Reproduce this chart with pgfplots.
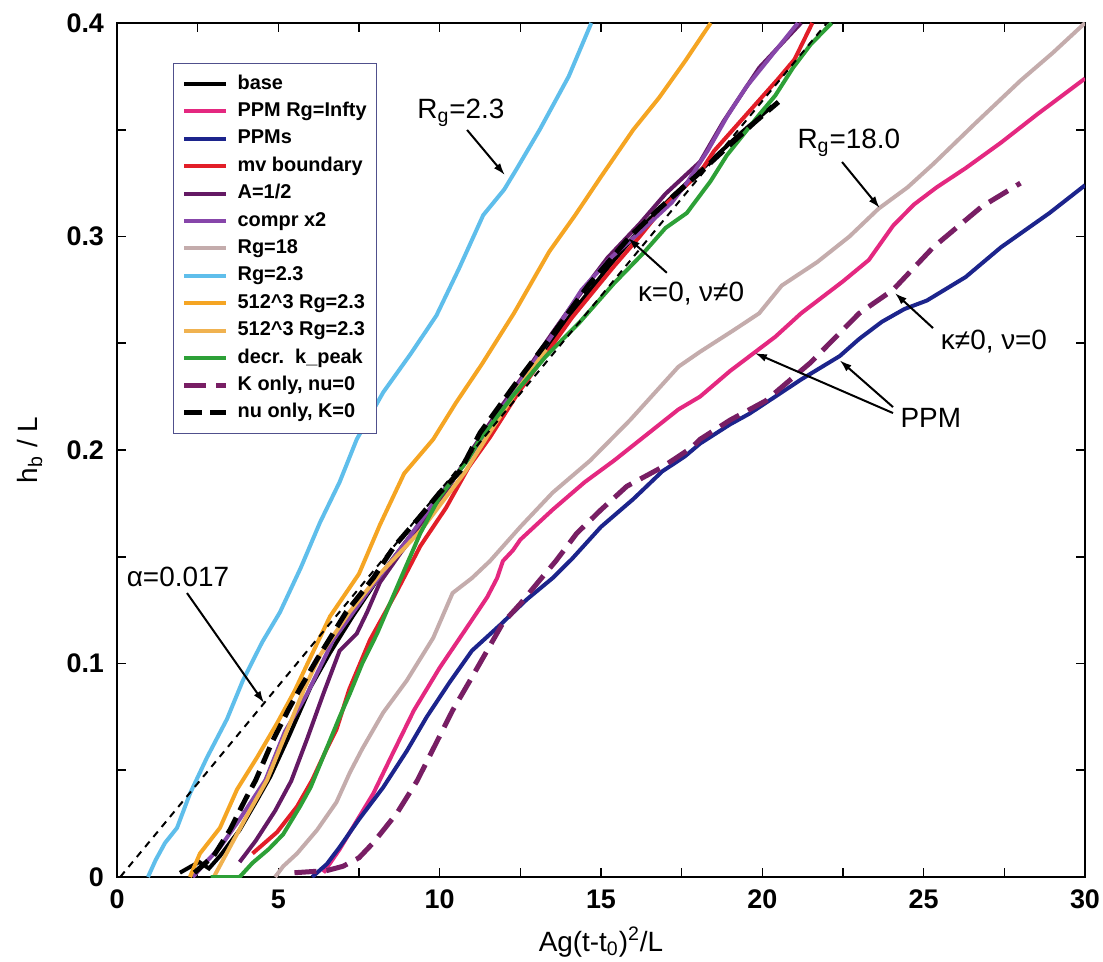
\documentclass[border=0pt]{standalone}
\usepackage{fontspec}
\setmainfont{Liberation Sans}
\usepackage{pgfplots}
\pgfplotsset{compat=1.18}
\usetikzlibrary{arrows.meta}
\definecolor{cpink}{RGB}{228,40,128}
\definecolor{cnavy}{RGB}{28,36,140}
\definecolor{cred}{RGB}{226,30,40}
\definecolor{cdpurp}{RGB}{100,25,100}
\definecolor{cmpurp}{RGB}{135,70,170}
\definecolor{cgrey}{RGB}{196,172,172}
\definecolor{cblue}{RGB}{95,190,235}
\definecolor{corange}{RGB}{245,165,35}
\definecolor{corangeb}{RGB}{240,178,80}
\definecolor{cgreen}{RGB}{45,160,55}
\definecolor{ckonly}{RGB}{120,30,100}
\definecolor{legendc}{RGB}{80,80,140}
\begin{document}
\begin{tikzpicture}
\useasboundingbox (-58.5bp,-42.5bp) rectangle (493bp,438.5bp);
\begin{axis}[
  at={(0,0)}, anchor=south west,
  scale only axis, width=484bp, height=427bp,
  xmin=0, xmax=30, ymin=0, ymax=0.4,
  xtick={0,5,...,30}, ytick={0,0.1,0.2,0.3,0.4},
  minor x tick num=1, minor y tick num=1,
  tick align=inside, major tick length=4.5bp, minor tick length=4.5bp,
  axis line style={line width=1.1bp},
  tick style={black, line width=0.8bp},
  /pgf/number format/assume math mode=true,
  tick label style={font=\fontsize{13.5}{14}\selectfont\bfseries},
  yticklabel style={/pgf/number format/fixed, /pgf/number format/precision=1, xshift=-3bp},
  xticklabel style={yshift=-3bp},
  xlabel={Ag(t-t\textsubscript{0})\textsuperscript{2}/L},
  ylabel={h\textsubscript{b} / L},
  label style={font=\fontsize{14}{16}\selectfont},
  xlabel style={at={(axis description cs:0.5,-0.076)}, anchor=center},
  ylabel style={at={(axis description cs:-0.09,0.5)}, anchor=center},
  legend cell align=left,
  legend style={at={(axis description cs:0.0579,0.9532)}, anchor=north west,
    draw=legendc, line width=0.6bp, fill=white, inner xsep=4bp, inner ysep=4.5bp,
    row sep=2.2bp, column sep=3.5bp, font=\fontsize{10}{11}\selectfont\bfseries,
    nodes={inner sep=1bp, text height=7.3bp, text depth=2.2bp}},
  legend image code/.code={\draw[#1] (0bp,0bp) -- (21bp,0bp);},
]
% base
\addplot[black, line width=2bp] coordinates {
(1.95,0.002)(2.3,0.005)(2.55,0.007)(2.85,0.004)(3.2,0.010)(3.8,0.022)(4.3,0.035)(4.75,0.047)(5.3,0.065)(6.0,0.089)(6.6,0.105)(7.3,0.122)(8.1,0.140)(8.9,0.156)(9.7,0.172)(10.6,0.190)(11.3,0.206)(12.3,0.228)(13.3,0.248)(14.3,0.268)(15.3,0.287)(16.3,0.305)(17.3,0.320)(18.3,0.334)(19.3,0.348)(20.3,0.361)};
\addlegendentry{base}
% PPM Rg=infty
\addplot[cpink, line width=2bp] coordinates {
(6.4,0.002)(6.9,0.013)(7.5,0.028)(7.94,0.039)(8.55,0.058)(9.2,0.078)(10.0,0.098)(10.85,0.117)(11.47,0.131)(11.78,0.140)(11.96,0.148)(12.27,0.153)(12.5,0.158)(13.5,0.172)(14.5,0.185)(15.4,0.195)(16.4,0.207)(17.4,0.219)(18.07,0.225)(19.0,0.237)(19.7,0.245)(20.4,0.253)(21.2,0.264)(22.5,0.279)(23.3,0.289)(24.05,0.305)(24.7,0.315)(25.4,0.323)(26.3,0.332)(27.4,0.344)(28.5,0.357)(30.0,0.374)};
\addlegendentry{PPM Rg=Infty}
% PPMs
\addplot[cnavy, line width=2bp] coordinates {
(6.05,0.0)(6.5,0.006)(6.9,0.014)(7.5,0.027)(8.25,0.042)(8.98,0.059)(9.6,0.075)(10.3,0.091)(11.0,0.106)(11.87,0.118)(12.7,0.130)(13.5,0.140)(14.1,0.149)(15.0,0.164)(16.0,0.177)(16.9,0.190)(17.6,0.197)(18.07,0.203)(19.0,0.212)(19.6,0.217)(20.4,0.225)(21.2,0.233)(22.4,0.244)(23.0,0.252)(23.7,0.260)(24.4,0.266)(25.1,0.270)(26.3,0.281)(27.4,0.295)(28.9,0.311)(30.0,0.324)};
\addlegendentry{PPMs}
% mv boundary
\addplot[cred, line width=2bp] coordinates {
(4.2,0.011)(4.96,0.021)(5.58,0.033)(6.05,0.0454)(6.5,0.060)(6.8,0.069)(7.2,0.088)(7.84,0.111)(8.68,0.134)(9.4,0.155)(10.2,0.173)(10.9,0.192)(11.56,0.206)(12.4,0.226)(13.3,0.245)(14.1,0.262)(15.4,0.286)(16.2,0.300)(17.0,0.315)(18.07,0.330)(18.5,0.340)(19.5,0.357)(20.5,0.374)(21.0,0.383)(21.55,0.4)};
\addlegendentry{mv boundary}
% A=1/2
\addplot[cdpurp, line width=2bp] coordinates {
(3.8,0.007)(4.3,0.017)(4.9,0.031)(5.4,0.045)(5.9,0.065)(6.4,0.086)(6.9,0.106)(7.43,0.114)(7.75,0.124)(8.15,0.138)(8.8,0.152)(9.5,0.166)(10.3,0.183)(11.0,0.200)(11.8,0.218)(12.6,0.235)(13.5,0.255)(14.3,0.272)(15.2,0.290)(16.2,0.306)(17.0,0.320)(18.07,0.335)(18.8,0.354)(19.9,0.379)(21.2,0.4)};
\addlegendentry{A=1/2}
% compr x2
\addplot[cmpurp, line width=2bp] coordinates {
(2.35,0.0)(2.7,0.006)(3.2,0.014)(3.8,0.027)(4.6,0.0454)(5.2,0.068)(5.9,0.086)(6.7,0.111)(7.75,0.133)(9.0,0.158)(9.9,0.177)(10.85,0.195)(11.5,0.210)(12.5,0.232)(13.5,0.254)(14.4,0.275)(15.3,0.290)(16.2,0.302)(17.2,0.316)(17.7,0.326)(18.3,0.340)(18.9,0.356)(19.5,0.370)(20.3,0.385)(21.1,0.4)};
\addlegendentry{compr x2}
% Rg=18
\addplot[cgrey, line width=2bp] coordinates {
(4.9,0.0)(5.15,0.005)(5.58,0.011)(6.2,0.022)(6.8,0.035)(7.22,0.049)(7.6,0.060)(8.25,0.077)(8.98,0.092)(9.8,0.112)(10.4,0.133)(11.0,0.140)(11.56,0.148)(12.5,0.164)(13.5,0.180)(14.66,0.195)(15.9,0.214)(17.4,0.239)(18.07,0.246)(19.1,0.256)(19.9,0.264)(20.6,0.277)(21.2,0.283)(21.7,0.288)(22.7,0.300)(23.6,0.313)(24.5,0.323)(25.3,0.334)(26.6,0.353)(28.0,0.373)(29.0,0.386)(30.0,0.4)};
\addlegendentry{Rg=18}
% Rg=2.3
\addplot[cblue, line width=2bp] coordinates {
(0.96,0.0)(1.2,0.008)(1.49,0.016)(1.86,0.023)(2.26,0.039)(2.79,0.056)(3.41,0.074)(3.9,0.092)(4.5,0.110)(5.05,0.124)(5.7,0.145)(6.29,0.166)(6.9,0.185)(7.43,0.205)(8.25,0.227)(9.1,0.245)(9.9,0.263)(10.6,0.285)(11.35,0.310)(12.0,0.322)(12.4,0.332)(13.1,0.350)(14.0,0.375)(14.7,0.4)};
\addlegendentry{Rg=2.3}
% 512^3 Rg=2.3 (a)
\addplot[corange, line width=2bp] coordinates {
(2.26,0.0)(2.57,0.011)(3.19,0.023)(3.72,0.041)(4.34,0.056)(4.96,0.072)(5.5,0.087)(6.0,0.103)(6.6,0.122)(7.5,0.142)(8.15,0.165)(8.9,0.189)(9.8,0.205)(10.5,0.222)(11.3,0.240)(12.3,0.264)(13.4,0.293)(14.2,0.310)(15.0,0.328)(16.0,0.350)(16.8,0.365)(17.6,0.382)(18.4,0.4)};
\addlegendentry{512\textasciicircum 3 Rg=2.3}
% 512^3 Rg=2.3 (b)
\addplot[corangeb, line width=2bp] coordinates {
(3.0,0.0)(3.5,0.014)(4.0,0.028)(4.65,0.0454)(5.2,0.066)(5.8,0.088)(6.3,0.104)(7.2,0.124)(8.15,0.142)(9.4,0.162)(10.3,0.180)(10.8,0.190)(11.5,0.207)(12.4,0.228)(13.3,0.247)};
\addlegendentry{512\textasciicircum 3 Rg=2.3}
% decr. k_peak
\addplot[cgreen, line width=2bp] coordinates {
(2.9,0.0)(3.8,0.0)(4.2,0.0066)(4.7,0.013)(5.15,0.020)(5.67,0.033)(6.0,0.042)(6.3,0.053)(6.6,0.064)(6.9,0.075)(7.22,0.086)(7.6,0.100)(8.06,0.114)(8.77,0.139)(9.4,0.161)(10.0,0.178)(10.85,0.195)(11.25,0.205)(12.3,0.226)(13.3,0.244)(14.35,0.260)(15.4,0.278)(16.3,0.292)(17.0,0.304)(17.66,0.311)(18.4,0.326)(18.9,0.338)(19.9,0.357)(20.4,0.366)(20.95,0.379)(21.5,0.390)(22.15,0.4)};
\addlegendentry{decr.\ \ k\_peak}
% K only, nu=0
\addplot[ckonly, line width=2.5bp, dash pattern=on 11bp off 5bp] coordinates {
(5.5,0.002)(6.5,0.003)(7.0,0.005)(7.5,0.009)(7.94,0.016)(8.68,0.030)(9.3,0.045)(9.9,0.063)(10.4,0.078)(10.94,0.092)(11.47,0.106)(11.96,0.119)(12.5,0.128)(13.1,0.139)(13.6,0.148)(14.25,0.161)(15.0,0.172)(15.8,0.183)(16.9,0.192)(17.8,0.201)(18.07,0.205)(19.0,0.214)(20.1,0.223)(21.5,0.241)(23.0,0.264)(24.05,0.275)(25.3,0.295)(26.8,0.314)(28.0,0.325)};
\addlegendentry{K only, nu=0}
% nu only, K=0
\addplot[black, line width=2.5bp, dash pattern=on 9bp off 4bp] coordinates {
(2.4,0.002)(3.0,0.010)(3.5,0.022)(4.0,0.037)(4.3,0.0454)(4.8,0.063)(5.3,0.078)(5.7,0.089)(6.2,0.102)(7.1,0.124)(7.94,0.140)(8.6,0.155)(9.4,0.169)(10.0,0.180)(10.63,0.190)(11.25,0.208)(12.3,0.230)(13.3,0.250)(14.6,0.277)(15.9,0.300)(16.8,0.313)(18.07,0.330)(19.0,0.343)(19.8,0.354)(20.5,0.363)};
\addlegendentry{nu only, K=0}
% alpha = 0.017 reference line
\addplot[black, line width=1bp, dash pattern=on 3.5bp off 3bp, forget plot] coordinates {(0.1,0.0)(22.0,0.4)};
% annotations
\tikzset{ann/.style={font=\fontsize{14}{16}\selectfont, inner sep=0pt}, arr/.style={line width=1bp, -{Latex[length=6bp,width=4bp]}}}
\node[ann] at (axis cs:10.66,0.358) {R\textsubscript{g}=2.3};
\draw[arr] (axis cs:10.85,0.3499) -- (axis cs:12.02,0.3288);
\node[ann] at (axis cs:17.79,0.2735) {κ=0, ν≠0};
\draw[arr] (axis cs:17.04,0.283) -- (axis cs:15.84,0.2993);
\node[ann] at (axis cs:22.68,0.3438) {R\textsubscript{g}=18.0};
\draw[arr] (axis cs:22.47,0.3349) -- (axis cs:23.64,0.3133);
\node[ann] at (axis cs:27.18,0.2506) {κ≠0, ν=0};
\draw[arr] (axis cs:25.29,0.2571) -- (axis cs:24.11,0.2735);
\node[ann] at (axis cs:25.22,0.215) {PPM};
\draw[arr] (axis cs:24.05,0.2173) -- (axis cs:19.77,0.2454);
\draw[arr] (axis cs:24.05,0.2201) -- (axis cs:22.4,0.242);
\node[ann] at (axis cs:1.89,0.1405) {α=0.017};
\draw[arr] (axis cs:2.17,0.133) -- (axis cs:4.56,0.0815);
\end{axis}
\end{tikzpicture}
\end{document}
